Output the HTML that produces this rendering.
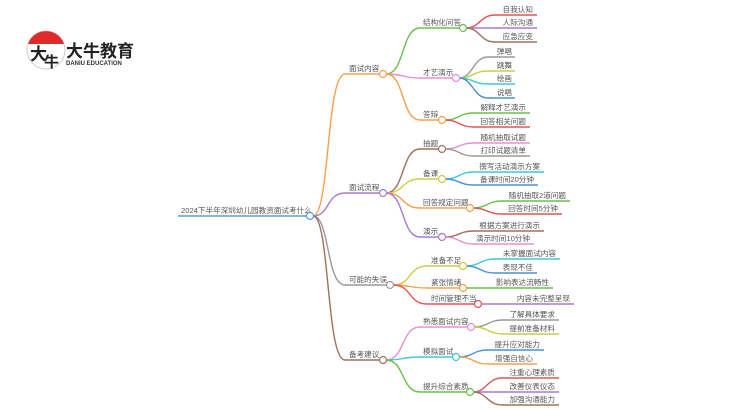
<!DOCTYPE html>
<html><head><meta charset="utf-8"><style>
html,body{margin:0;padding:0;background:#fff;}
svg{display:block;}
text{font-family:"Liberation Sans","Noto Sans CJK SC",sans-serif;font-size:7.6px;fill:#555;}
path{fill:none;stroke-width:1.4;}
circle.n{fill:#fff;stroke-width:1.2;}
</style></head><body>
<svg width="750" height="410" viewBox="0 0 750 410" xmlns="http://www.w3.org/2000/svg">
<!-- logo -->
<circle cx="46" cy="50" r="19" fill="#fff" stroke="#ccc" stroke-width="1"/>
<path d="M28,44 A19,19 0 0 1 64,44 Z" style="fill:#e02a2a;stroke:none"/>
<text x="30" y="60" style="font-size:17px;fill:#222;font-weight:bold">大</text>
<text x="44" y="67" style="font-size:15px;fill:#222;font-weight:bold">牛</text>
<text x="66" y="57" style="font-size:17px;fill:#222;font-weight:bold">大牛教育</text>
<text x="66" y="65" style="font-size:6px;fill:#333;font-weight:bold">DANIU EDUCATION</text>

<!-- root -->
<path d="M178,216 H307" stroke="#5b9bd5"/>
<text x="181" y="213">2024下半年深圳幼儿园教资面试考什么</text>

<!-- L1 -->
<path d="M313,216 C330,216 326,74 345,74 H380" stroke="#f7a04b"/>
<text x="349" y="71">面试内容</text>
<path d="M313,216 C330,216 326,193 345,193 H380" stroke="#a77bd0"/>
<text x="349" y="190">面试流程</text>
<path d="M313,216 C330,216 326,285 345,285 H387" stroke="#999"/>
<text x="349" y="282">可能的失误</text>
<path d="M313,216 C330,216 326,360 345,360 H380" stroke="#a07060"/>
<text x="349" y="357">备考建议</text>

<!-- L2 面试内容 -->
<path d="M386,74 C405,74 401,28 420,28 H460" stroke="#6abf4b"/>
<text x="423" y="25">结构化问答</text>
<path d="M386,74 C405,74 401,78 420,78 H453" stroke="#e88fd0"/>
<text x="423" y="75">才艺演示</text>
<path d="M386,74 C405,74 401,120 420,120 H439" stroke="#f7a04b"/>
<text x="423" y="117">答辩</text>
<!-- L2 面试流程 -->
<path d="M386,193 C405,193 401,149 420,149 H439" stroke="#a07060"/>
<text x="423" y="146">抽题</text>
<path d="M386,193 C405,193 401,179 420,179 H439" stroke="#cccc44"/>
<text x="423" y="176">备课</text>
<path d="M386,193 C405,193 401,208 420,208 H467" stroke="#f7a04b"/>
<text x="423" y="205">回答规定问题</text>
<path d="M386,193 C405,193 401,237 420,237 H439" stroke="#a77bd0"/>
<text x="423" y="234">演示</text>
<!-- L2 可能的失误 -->
<path d="M393,285 C412,285 408,266 427,266 H460" stroke="#cccc44"/>
<text x="431" y="263">准备不足</text>
<path d="M393,285 C412,285 408,288 427,288 H460" stroke="#f7a04b"/>
<text x="431" y="285">紧张情绪</text>
<path d="M393,285 C412,285 408,304 427,304 H475" stroke="#e05555"/>
<text x="431" y="301">时间管理不当</text>
<!-- L2 备考建议 -->
<path d="M386,360 C405,360 401,327 420,327 H468" stroke="#e88fd0"/>
<text x="423" y="324">熟悉面试内容</text>
<path d="M386,360 C405,360 401,357 420,357 H453" stroke="#3ec8d8"/>
<text x="423" y="354">模拟面试</text>
<path d="M386,360 C405,360 401,392 420,392 H467" stroke="#6abf4b"/>
<text x="423" y="389">提升综合素质</text>

<!-- leaves -->
<g text-anchor="end">
<path d="M466,28 C480,28 480,15 495,15 H537" stroke="#e05555"/><text x="533" y="12">自我认知</text>
<path d="M466,28 C480,28 480,28 495,28 H537" stroke="#a77bd0"/><text x="533" y="25">人际沟通</text>
<path d="M466,28 C480,28 480,42 495,42 H537" stroke="#a07060"/><text x="533" y="39">应急应变</text>

<path d="M459,78 C473,78 473,57 488,57 H515" stroke="#999"/><text x="512" y="54">弹唱</text>
<path d="M459,78 C473,78 473,71 488,71 H515" stroke="#cccc44"/><text x="512" y="68">跳舞</text>
<path d="M459,78 C473,78 473,84 488,84 H515" stroke="#3ec8d8"/><text x="512" y="81">绘画</text>
<path d="M459,78 C473,78 473,98 488,98 H515" stroke="#4a90d0"/><text x="512" y="95">说唱</text>

<path d="M445,120 C459,120 459,113 474,113 H530" stroke="#6abf4b"/><text x="526" y="110">解释才艺演示</text>
<path d="M445,120 C459,120 459,127 474,127 H530" stroke="#e05555"/><text x="526" y="124">回答相关问题</text>

<path d="M445,149 C459,149 459,143 474,143 H530" stroke="#e88fd0"/><text x="526" y="140">随机抽取试题</text>
<path d="M445,149 C459,149 459,156 474,156 H530" stroke="#999"/><text x="526" y="153">打印试题清单</text>

<path d="M445,179 C459,179 459,172 474,172 H544" stroke="#3ec8d8"/><text x="540" y="169">撰写活动演示方案</text>
<path d="M445,179 C459,179 459,185 474,185 H538" stroke="#4a90d0"/><text x="534" y="182">备课时间20分钟</text>

<path d="M473,208 C487,208 487,201 502,201 H570" stroke="#6abf4b"/><text x="566" y="198">随机抽取2道问题</text>
<path d="M473,208 C487,208 487,214 502,214 H562" stroke="#e05555"/><text x="558" y="211">回答时间5分钟</text>

<path d="M445,237 C459,237 459,231 474,231 H544" stroke="#a07060"/><text x="540" y="228">根据方案进行演示</text>
<path d="M445,237 C459,237 459,244 474,244 H534" stroke="#e88fd0"/><text x="530" y="241">演示时间10分钟</text>

<path d="M466,266 C480,266 480,259 495,259 H560" stroke="#3ec8d8"/><text x="556" y="256">未掌握面试内容</text>
<path d="M466,266 C480,266 480,273 495,273 H537" stroke="#4a90d0"/><text x="533" y="270">表现不佳</text>
<path d="M466,288 H553" stroke="#6abf4b"/><text x="549" y="285">影响表达流畅性</text>
<path d="M481,304 H574" stroke="#a77bd0"/><text x="570" y="301">内容未完整呈现</text>

<path d="M474,327 C488,327 488,320 503,320 H559" stroke="#999"/><text x="555" y="317">了解具体要求</text>
<path d="M474,327 C488,327 488,334 503,334 H559" stroke="#cccc44"/><text x="555" y="331">提前准备材料</text>

<path d="M459,357 C473,357 473,350 488,350 H544" stroke="#4a90d0"/><text x="540" y="347">提升应对能力</text>
<path d="M459,357 C473,357 473,364 488,364 H537" stroke="#f7a04b"/><text x="533" y="361">增强自信心</text>

<path d="M473,392 C487,392 487,378 502,378 H559" stroke="#e05555"/><text x="555" y="375">注重心理素质</text>
<path d="M473,392 C487,392 487,392 502,392 H559" stroke="#a77bd0"/><text x="555" y="389">改善仪表仪态</text>
<path d="M473,392 C487,392 487,405 502,405 H559" stroke="#a07060"/><text x="555" y="402">加强沟通能力</text>
</g>

<!-- circles -->
<circle class="n" cx="310" cy="216" r="3.5" stroke="#5b9bd5"/>
<circle class="n" cx="383" cy="74" r="3.5" stroke="#f7a04b"/>
<circle class="n" cx="383" cy="193" r="3.5" stroke="#a77bd0"/>
<circle class="n" cx="390" cy="285" r="3.5" stroke="#999"/>
<circle class="n" cx="383" cy="360" r="3.5" stroke="#a07060"/>
<circle class="n" cx="463" cy="28" r="3.5" stroke="#6abf4b"/>
<circle class="n" cx="456" cy="78" r="3.5" stroke="#e88fd0"/>
<circle class="n" cx="442" cy="120" r="3.5" stroke="#f7a04b"/>
<circle class="n" cx="442" cy="149" r="3.5" stroke="#a07060"/>
<circle class="n" cx="442" cy="179" r="3.5" stroke="#cccc44"/>
<circle class="n" cx="470" cy="208" r="3.5" stroke="#f7a04b"/>
<circle class="n" cx="442" cy="237" r="3.5" stroke="#a77bd0"/>
<circle class="n" cx="463" cy="266" r="3.5" stroke="#cccc44"/>
<circle class="n" cx="463" cy="288" r="3.5" stroke="#f7a04b"/>
<circle class="n" cx="478" cy="304" r="3.5" stroke="#e05555"/>
<circle class="n" cx="471" cy="327" r="3.5" stroke="#e88fd0"/>
<circle class="n" cx="456" cy="357" r="3.5" stroke="#3ec8d8"/>
<circle class="n" cx="470" cy="392" r="3.5" stroke="#6abf4b"/>
</svg>
</body></html>
